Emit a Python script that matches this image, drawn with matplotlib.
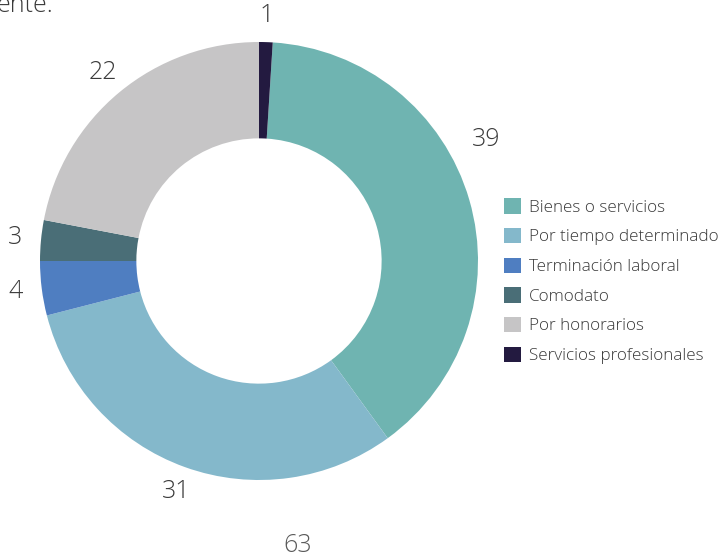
import matplotlib
matplotlib.use("Agg")
import numpy as np
import matplotlib.pyplot as plt

# ============================================================
# DATA
# ============================================================
CATEGORIES = [
    "Bienes o servicios",
    "Por tiempo determinado",
    "Terminación laboral",
    "Comodato",
    "Por honorarios",
    "Servicios profesionales",
]
VALUES = [39, 31, 4, 3, 22, 1]
COLORS = ["#6FB4B1", "#84B8CB", "#4F7EC1", "#4A6E77", "#C6C5C6", "#231A40"]
TOTAL_LABEL = "63"
TOP_TEXT = "ente."

TEXT_COLOR = "#3a3a3a"
LABEL_NUDGE_DEG = {0: 12}   # the "39" label sits a bit higher in the original
plt.rcParams["font.family"] = ["Open Sans", "DejaVu Sans"]
plt.rcParams["font.weight"] = "light"


def main():
    fig = plt.figure(figsize=(7.21, 5.58), dpi=100)
    W, H = 721, 558

    # axes placed so the donut centre sits at (259, 261) px, radius 219 px
    cx, cy, r_px, lim = 259, 261, 219, 1.2
    size = r_px * lim * 2
    ax = fig.add_axes([(cx - size / 2) / W, (H - cy - size / 2) / H, size / W, size / H])

    label_dist = 1.12
    wedges, texts = ax.pie(
        VALUES,
        colors=COLORS,
        labels=[str(v) for v in VALUES],
        startangle=90 - VALUES[-1] / sum(VALUES) * 360,
        counterclock=False,
        radius=1.0,
        labeldistance=label_dist,
        wedgeprops=dict(width=0.44, edgecolor="none"),
        textprops=dict(fontsize=18, color=TEXT_COLOR),
    )
    for i, (w, t) in enumerate(zip(wedges, texts)):
        t.set_ha("center")
        t.set_va("center")
        if i in LABEL_NUDGE_DEG:
            ang = np.deg2rad((w.theta1 + w.theta2) / 2 + LABEL_NUDGE_DEG[i])
            d = label_dist * 1.05
            t.set_position((d * np.cos(ang), d * np.sin(ang)))
    ax.set_xlim(-lim, lim)
    ax.set_ylim(-lim, lim)
    ax.set_aspect("equal")
    ax.axis("off")

    fig.legend(
        wedges,
        CATEGORIES,
        loc="upper left",
        bbox_to_anchor=(489 / W, 1 - 183 / H),
        frameon=False,
        fontsize=12.3,
        labelcolor=TEXT_COLOR,
        handlelength=1.0,
        handleheight=1.0,
        handletextpad=0.45,
        labelspacing=0.71,
    )

    fig.text(298 / W, 1 - 546 / H, TOTAL_LABEL, fontsize=18, color="#5a5a5a",
             ha="center", va="center")
    fig.text(-3 / W, 1 - 12 / H, TOP_TEXT, fontsize=18, color=TEXT_COLOR,
             ha="left", va="baseline")

    fig.savefig("out.png", dpi=100)
    plt.close(fig)


if __name__ == "__main__":
    main()
